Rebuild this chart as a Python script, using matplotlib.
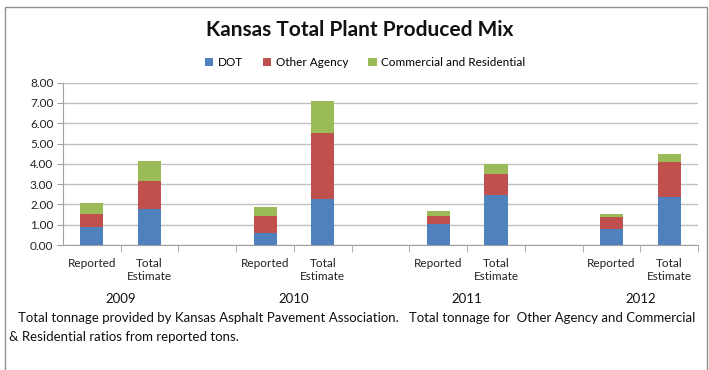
import numpy as np
import matplotlib.pyplot as plt
from matplotlib.patches import Rectangle

plt.rcParams['font.family'] = ['Lato', 'DejaVu Sans']

years = ['2009', '2010', '2011', '2012']
kinds = ['Reported', 'Total\nEstimate']
# values per year: [Reported, Total Estimate]
dot = [[0.87, 1.76], [0.57, 2.27], [1.02, 2.46], [0.79, 2.35]]
other = [[0.66, 1.39], [0.86, 3.26], [0.42, 1.05], [0.59, 1.74]]
comm = [[0.54, 1.00], [0.43, 1.58], [0.22, 0.48], [0.15, 0.41]]

c_dot = '#4F81BD'
c_other = '#C0504D'
c_comm = '#9BBB59'

fig = plt.figure(figsize=(7.09, 3.70), dpi=100)
ax = fig.add_axes([0.0889, 0.3378, 0.8956, 0.4387])

pos = np.array([[3 * i + j for j in range(2)] for i in range(len(years))]).ravel()
d = np.array(dot).ravel()
o = np.array(other).ravel()
c = np.array(comm).ravel()

w = 0.4
ax.bar(pos, d, w, color=c_dot, label='DOT', zorder=3)
ax.bar(pos, o, w, bottom=d, color=c_other, label='Other Agency', zorder=3)
ax.bar(pos, c, w, bottom=d + o, color=c_comm, label='Commercial and Residential', zorder=3)

ax.set_xlim(-0.5, 10.5)
ax.set_ylim(0, 8)
ax.set_yticks(np.arange(0, 9, 1))
ax.set_yticklabels(['%.2f' % v for v in np.arange(0, 9, 1)])
ax.yaxis.grid(True, color='#c0c0c0', linewidth=1, zorder=0)

ax.set_xticks(pos)
ax.set_xticklabels(kinds * len(years), linespacing=1.3)
ax.set_xticks(np.arange(0.5, 11, 1), minor=True)
ax.tick_params(axis='x', which='major', length=0, pad=9, labelsize=8.5, colors='#222222')
ax.tick_params(axis='x', which='minor', length=5, color='#a0a0a0', direction='out')
ax.tick_params(axis='y', length=4, color='#a0a0a0', labelsize=8.5, labelcolor='#222222', pad=3)

for side in ['top', 'right']:
    ax.spines[side].set_visible(False)
for side in ['left', 'bottom']:
    ax.spines[side].set_color('#a0a0a0')

for i, y in enumerate(years):
    ax.text(3 * i + 0.5, -0.33, y, transform=ax.get_xaxis_transform(),
            ha='center', va='center', fontsize=9.5, color='#111111')

fig.text(0.508, 0.918, 'Kansas Total Plant Produced Mix', ha='center', va='center',
         fontsize=15, fontweight='bold', color='#111111')
fig.legend(loc='center', bbox_to_anchor=(0.515, 0.83), ncol=3, frameon=False,
           fontsize=8.5, handlelength=0.7, handleheight=0.7, handletextpad=0.4,
           columnspacing=1.7)

fig.text(0.025, 0.14, 'Total tonnage provided by Kansas Asphalt Pavement Association.   '
         'Total tonnage for  Other Agency and Commercial', ha='left', va='center',
         fontsize=9.5, color='#111111')
fig.text(0.013, 0.088, '& Residential ratios from reported tons.', ha='left', va='center',
         fontsize=9.5, color='#111111')

fig.patches.append(Rectangle((0.007, -0.01), 0.99, 0.99, transform=fig.transFigure,
                             fill=False, edgecolor='#909090', linewidth=1))

fig.savefig('out.png', dpi=100)
